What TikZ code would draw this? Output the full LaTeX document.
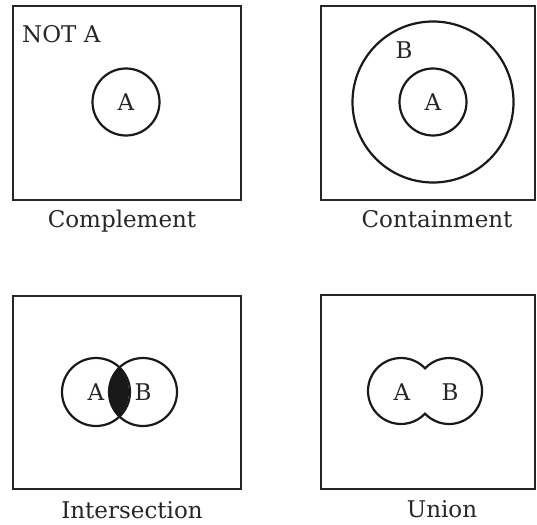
\documentclass[tikz,border=0pt]{standalone}
\usepackage{fontspec}
\setmainfont{DejaVu Serif}
\usetikzlibrary{positioning}

\begin{document}
\begin{tikzpicture}[
    x=1pt, y=-1pt,
    frame/.style={rectangle, draw=black!85, line width=1.6pt, inner sep=0pt},
    setcirc/.style={circle, draw=black!90, line width=2.2pt, minimum size=67pt, inner sep=0pt, font=\fontsize{23}{26}\selectfont, text=black!85},
    setlabel/.style={font=\fontsize{23}{26}\selectfont, text=black!85, inner sep=0pt},
    caption/.style={setlabel, anchor=base}
]
    \useasboundingbox (0,0) rectangle (537,524);

    \node[frame, minimum width=228pt, minimum height=194pt] (compbox) at (127,103) {};
    \node[frame, minimum width=214pt, minimum height=194pt] (contbox) at (428,103) {};
    \node[frame, minimum width=228pt, minimum height=193pt] (intbox) at (127,392.5) {};
    \node[frame, minimum width=214pt, minimum height=194pt] (unionbox) at (428,392) {};

    \node[setlabel, anchor=base west] (nota) at (22,43) {NOT A};
    \node[setcirc] (compa) at (126,102) {A};
    \node[caption] (compcap) at (122,227) {Complement};

    \node[setcirc, minimum size=161pt] (contb) at (433,102) {};
    \node[setcirc] (conta) at (433,102) {A};
    \node[setlabel, anchor=base] (contblabel) at (404,59) {B};
    \node[caption] (contcap) at (437,227) {Containment};

    \begin{scope}
        \clip (95,392) circle (34pt);
        \fill[black!90] (143,392) circle (34pt);
    \end{scope}
    \node[setcirc, minimum size=68pt] (inta) at (96,392) {A};
    \node[setcirc, minimum size=68pt] (intb) at (143,392) {B};
    \node[caption] (intcap) at (132,518) {Intersection};

    \draw[draw=black!90, line width=2.2pt] ([shift={(43.3:33pt)}]401,391)
        arc[start angle=43.3, end angle=316.7, radius=33pt]
        arc[start angle=-136.7, end angle=136.7, radius=33pt] -- cycle;
    \node[setlabel] (unia) at (402,392) {A};
    \node[setlabel] (unib) at (450,392) {B};
    \node[caption] (unicap) at (442,517) {Union};
\end{tikzpicture}
\end{document}
